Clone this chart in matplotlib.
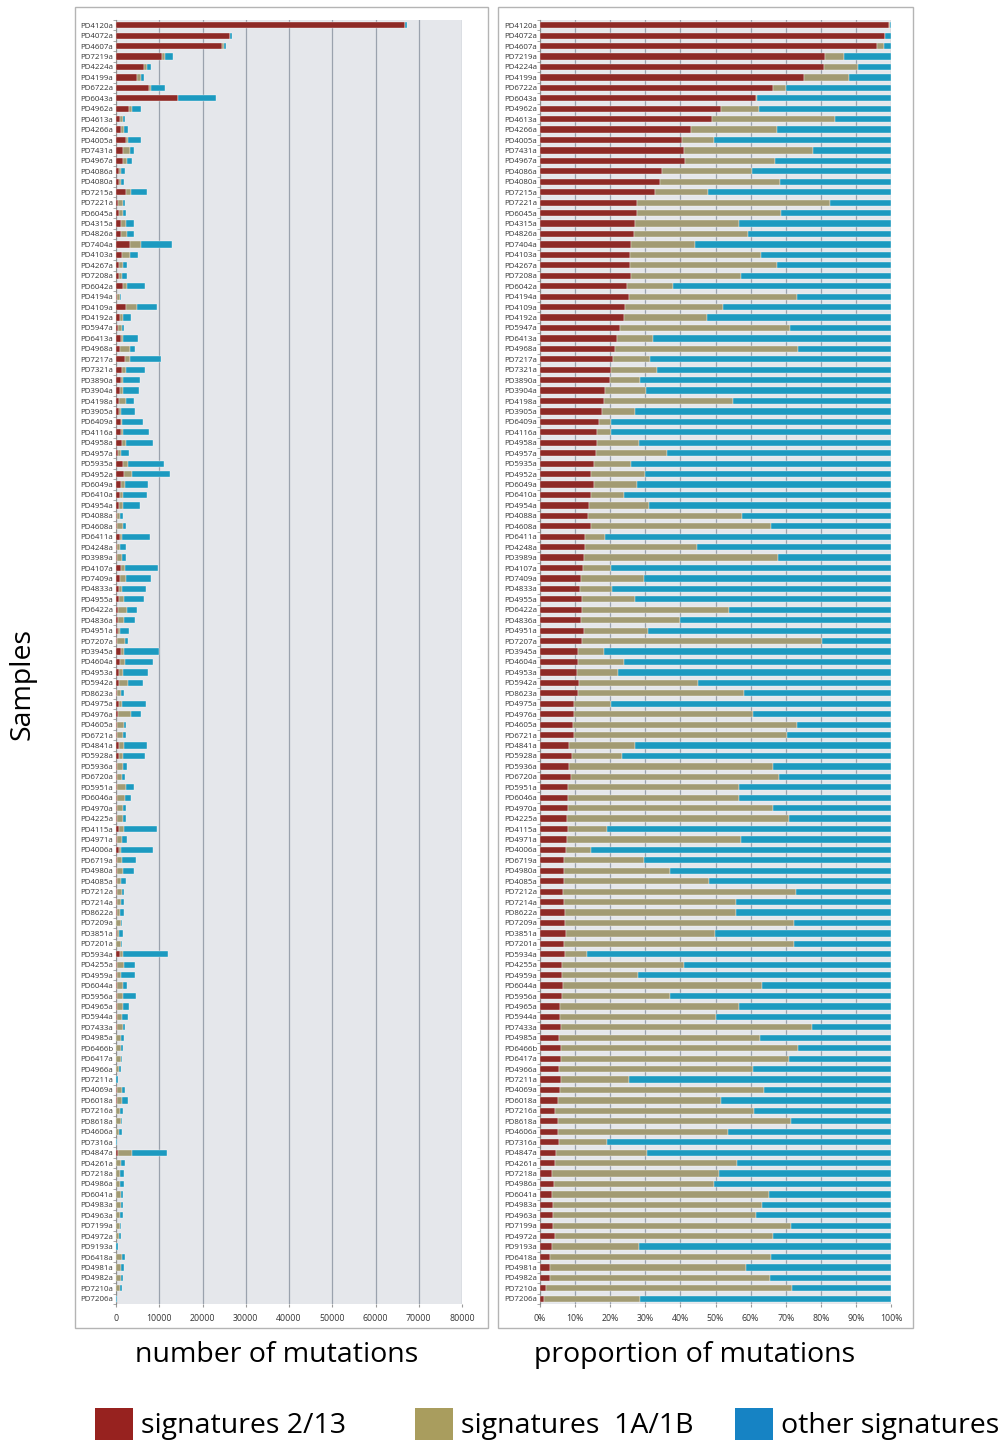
import matplotlib

matplotlib.use("Agg")
import matplotlib.pyplot as plt
import numpy as np
from matplotlib.patches import Rectangle

plt.rcParams["font.family"] = ["Open Sans", "DejaVu Sans"]

samples = [
    "PD4120a", "PD4072a", "PD4607a", "PD7219a", "PD4224a", "PD4199a", "PD6722a",
    "PD6043a", "PD4962a", "PD4613a", "PD4266a", "PD4005a", "PD7431a", "PD4967a",
    "PD4086a", "PD4080a", "PD7215a", "PD7221a", "PD6045a", "PD4315a", "PD4826a",
    "PD7404a", "PD4103a", "PD4267a", "PD7208a", "PD6042a", "PD4194a", "PD4109a",
    "PD4192a", "PD5947a", "PD6413a", "PD4968a", "PD7217a", "PD7321a", "PD3890a",
    "PD3904a", "PD4198a", "PD3905a", "PD6409a", "PD4116a", "PD4958a", "PD4957a",
    "PD5935a", "PD4952a", "PD6049a", "PD6410a", "PD4954a", "PD4088a", "PD4608a",
    "PD6411a", "PD4248a", "PD3989a", "PD4107a", "PD7409a", "PD4833a", "PD4955a",
    "PD6422a", "PD4836a", "PD4951a", "PD7207a", "PD3945a", "PD4604a", "PD4953a",
    "PD5942a", "PD8623a", "PD4975a", "PD4976a", "PD4605a", "PD6721a", "PD4841a",
    "PD5928a", "PD5936a", "PD6720a", "PD5951a", "PD6046a", "PD4970a", "PD4225a",
    "PD4115a", "PD4971a", "PD4006a", "PD6719a", "PD4980a", "PD4085a", "PD7212a",
    "PD7214a", "PD8622a", "PD7209a", "PD3851a", "PD7201a", "PD5934a", "PD4255a",
    "PD4959a", "PD6044a", "PD5956a", "PD4965a", "PD5944a", "PD7433a", "PD4985a",
    "PD6466b", "PD6417a", "PD4966a", "PD7211a", "PD4069a", "PD6018a", "PD7216a",
    "PD8618a", "PD4606a", "PD7316a", "PD4847a", "PD4261a", "PD7218a", "PD4986a",
    "PD6041a", "PD4983a", "PD4963a", "PD7199a", "PD4972a", "PD9193a", "PD6418a",
    "PD4981a", "PD4982a", "PD7210a", "PD7206a",
]

# total number of mutations per sample
total = [
    67200, 26900, 25500, 13200, 8000, 6500, 11400, 23100, 5800, 2000, 2800,
    5800, 4200, 3700, 2000, 1800, 7200, 2000, 2200, 4100, 4100, 12900, 5100,
    2500, 2500, 6800, 1200, 9400, 3500, 1800, 5000, 4300, 10300, 6600, 5600,
    5400, 4200, 4300, 6300, 7700, 8500, 3000, 11000, 12500, 7500, 7200, 5500,
    1600, 2400, 7800, 2200, 2200, 9800, 8000, 6900, 6400, 4800, 4500, 3000,
    2700, 9900, 8500, 7400, 6300, 1800, 7000, 5800, 2400, 2200, 7200, 6700,
    2600, 2000, 4100, 3500, 2400, 2200, 9500, 2600, 8600, 4700, 4200, 2400,
    1900, 1900, 1800, 1500, 1600, 1500, 12100, 4500, 4400, 2500, 4600, 2900,
    2800, 2100, 1800, 1600, 1500, 1200, 400, 2100, 2800, 1600, 1500, 1400,
    300, 11800, 2000, 1800, 1900, 1700, 1700, 1600, 1200, 1200, 400, 2000,
    1900, 1700, 1400, 200,
]

# cumulative share (%) at the end of the 2/13 segment and of the 1A/1B segment
pct_213 = [
    99.4, 98.2, 96.1, 81.2, 80.9, 75.3, 66.3, 61.6, 51.7, 48.9, 43.0, 40.5,
    41.0, 41.2, 34.8, 34.2, 32.8, 27.7, 27.5, 27.1, 26.8, 25.9, 25.6, 25.5,
    26.0, 24.9, 25.3, 24.1, 24.0, 22.8, 21.8, 21.4, 20.7, 20.3, 19.9, 18.5,
    18.3, 17.8, 16.8, 16.3, 16.1, 15.9, 15.4, 14.4, 15.3, 14.4, 13.9, 13.7,
    14.4, 12.7, 12.9, 12.5, 12.2, 11.6, 11.5, 12.1, 11.9, 11.7, 12.4, 11.9,
    10.8, 10.8, 10.5, 11.2, 10.8, 9.6, 9.8, 9.4, 9.8, 8.4, 9.0, 8.4, 8.7,
    8.0, 8.0, 8.0, 7.7, 8.1, 7.7, 7.3, 6.7, 6.9, 6.9, 6.6, 6.7, 7.0, 7.0,
    7.3, 6.8, 7.2, 6.4, 6.2, 6.6, 6.3, 5.6, 5.6, 6.0, 5.5, 5.9, 6.0, 5.5,
    5.9, 5.8, 5.1, 4.4, 5.1, 5.2, 5.4, 4.5, 4.4, 3.4, 4.0, 3.4, 3.8, 3.7,
    3.6, 4.4, 3.3, 2.9, 2.9, 2.9, 1.8, 1.2,
]
pct_cum_1ab = [
    99.6, 98.2, 98.0, 86.5, 90.6, 88.0, 70.0, 61.8, 62.3, 84.0, 67.5, 49.5,
    77.7, 66.9, 60.3, 68.3, 48.0, 82.7, 68.7, 56.7, 59.4, 44.3, 62.9, 67.5,
    57.2, 38.0, 73.2, 52.1, 47.7, 71.1, 32.1, 73.6, 31.3, 33.4, 28.5, 30.1,
    54.9, 27.2, 20.2, 20.2, 28.3, 36.1, 25.9, 30.0, 27.6, 24.0, 31.0, 57.5,
    65.8, 18.4, 44.7, 67.9, 20.3, 29.5, 20.4, 27.1, 53.9, 40.0, 30.7, 80.2,
    18.2, 23.9, 22.2, 45.1, 58.2, 20.2, 60.6, 73.1, 70.3, 27.1, 23.5, 66.4,
    68.1, 56.7, 56.6, 66.4, 70.9, 19.2, 57.2, 14.4, 29.5, 37.0, 48.2, 72.8,
    55.8, 55.9, 72.5, 49.9, 72.5, 13.4, 40.9, 27.9, 63.2, 37.0, 56.7, 50.1,
    77.5, 62.8, 73.5, 70.9, 60.8, 25.3, 63.7, 51.5, 61.1, 71.6, 53.7, 19.0,
    30.4, 56.1, 50.9, 49.6, 65.2, 63.2, 61.6, 71.4, 66.3, 28.1, 65.8, 58.7,
    65.5, 71.8, 28.5,
]

series_names = ["signatures 2/13", "signatures  1A/1B", "other signatures"]
bar_colors = ["#8e2a26", "#a29b73", "#1c9ac0"]
key_colors = ["#97221f", "#a99d5e", "#1683c4"]

total = np.array(total, dtype=float)
p1 = np.array(pct_213) / 100
p2 = np.array(pct_cum_1ab) / 100 - p1
p3 = 1 - p1 - p2
props = [p1, p2, p3]
counts = [p * total for p in props]

W, H = 1006, 1445
fig = plt.figure(figsize=(W / 100, H / 100), dpi=100)

# panel frames
for x0, x1 in [(75, 488), (498, 913)]:
    fig.add_artist(Rectangle((x0 / W, 1 - 1328 / H), (x1 - x0) / W, 1321 / H,
                             transform=fig.transFigure, facecolor="white",
                             edgecolor="#b4b4b4", linewidth=1.0, zorder=0))

top, bottom = 20, 1304
ax_l = fig.add_axes([116 / W, 1 - bottom / H, 346 / W, (bottom - top) / H])
ax_r = fig.add_axes([540 / W, 1 - bottom / H, 351 / W, (bottom - top) / H])

y = np.arange(len(samples))
for ax, vals in [(ax_l, counts), (ax_r, props)]:
    ax.set_facecolor("#e5e7eb")
    left = np.zeros(len(samples))
    for v, c in zip(vals, bar_colors):
        ax.barh(y, v, left=left, height=0.6, color=c, edgecolor="white",
                linewidth=0.25, zorder=3)
        left = left + v
    ax.set_ylim(len(samples) - 0.5, -0.5)
    ax.set_yticks(y)
    ax.set_yticklabels(samples, fontsize=5.7, color="#333333")
    ax.tick_params(axis="y", length=0, pad=2)
    ax.set_yticks(np.arange(len(samples) + 1) - 0.5, minor=True)
    ax.tick_params(axis="y", which="minor", length=2.5, color="#9a9a9a")
    ax.tick_params(axis="x", length=2.5, color="#9a9a9a", labelsize=6.3,
                   pad=5, labelcolor="#333333")
    ax.grid(axis="x", color="#9aa2ad", linewidth=0.9, zorder=1)
    for s in ["top", "right", "bottom"]:
        ax.spines[s].set_visible(False)
    ax.spines["left"].set_color("#8c8c8c")
    ax.spines["left"].set_linewidth(0.8)

ax_l.set_xlim(0, 80000)
ax_l.set_xticks(np.arange(0, 80001, 10000))
ax_r.set_xlim(0, 1)
ax_r.set_xticks(np.linspace(0, 1, 11))
ax_r.set_xticklabels([f"{i}%" for i in range(0, 101, 10)])

big = 20.5
fig.text(277 / W, 1 - 1355 / H, "number of mutations", fontsize=big,
         ha="center", va="center")
fig.text(695 / W, 1 - 1355 / H, "proportion of mutations", fontsize=big,
         ha="center", va="center")
fig.text(22 / W, 1 - 684 / H, "Samples", fontsize=big, rotation=90,
         ha="center", va="center")

# legend key
for x0, name, c in zip([95, 415, 735], series_names, key_colors):
    fig.add_artist(Rectangle((x0 / W, 1 - 1440 / H), 38 / W, 32 / H,
                             transform=fig.transFigure, facecolor=c,
                             edgecolor="none"))
    fig.text((x0 + 46) / W, 1 - 1426 / H, name, fontsize=big, ha="left",
             va="center")

fig.savefig("out.png", dpi=100)
